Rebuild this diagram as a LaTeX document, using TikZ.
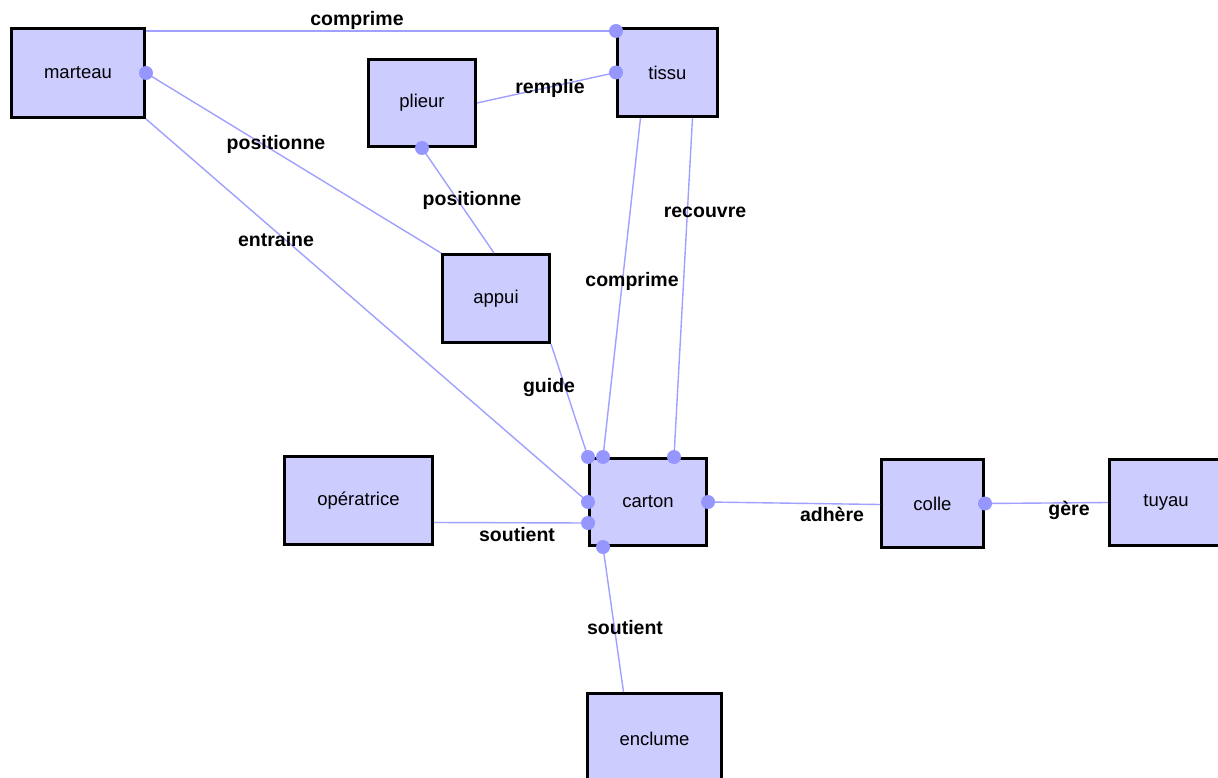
\documentclass[tikz,border=0pt]{standalone}
\usepackage{fontspec}
\setmainfont{Liberation Sans}
\usetikzlibrary{calc}
\definecolor{boxfill}{RGB}{204,204,255}
\definecolor{linkc}{RGB}{160,160,255}
\definecolor{dotc}{RGB}{150,150,255}
\tikzset{
  box/.style={draw=black, line width=3pt, fill=boxfill, rectangle, inner sep=0pt,
    font=\fontsize{18.5}{20}\selectfont},
  link/.style={draw=linkc, line width=1.4pt},
  dotm/.style={circle, fill=dotc, inner sep=0pt, minimum size=14pt},
  lab/.style={font=\fontsize{19.5}{21}\selectfont\bfseries, inner sep=1pt}
}
\begin{document}
\begin{tikzpicture}[x=1pt,y=-1pt]
\useasboundingbox (0,0) rectangle (1218,778);
\begin{scope}
\clip (0,0) rectangle (1218,778);
\fill[white] (0,0) rectangle (1218,778);
% nodes
\node[box, minimum width=133pt, minimum height=89pt] (marteau) at (78,73) {marteau};
\node[box, minimum width=107pt, minimum height=87pt] (plieur) at (422,103) {plieur};
\node[box, minimum width=100pt, minimum height=88pt] (tissu) at (667.5,72.5) {tissu};
\node[box, minimum width=107pt, minimum height=88pt] (appui) at (496,298.5) {appui};
\node[box, minimum width=117pt, minimum height=87pt] (carton) at (648,502) {carton};
\node[box, minimum width=148pt, minimum height=88pt] (operatrice) at (358.5,500.5) {opératrice};
\node[box, minimum width=102pt, minimum height=88pt] (colle) at (932.5,503.5) {colle};
\node[box, minimum width=113pt, minimum height=86pt] (tuyau) at (1166,502.5) {tuyau};
\node[box, minimum width=134pt, minimum height=90pt] (enclume) at (654.5,738.5) {enclume};
% connectors
\draw[link] ([yshift=-4pt]marteau.north east) -- ([yshift=-4pt]tissu.north west) node[pos=1,dotm]{};
\draw[link] (marteau.east) node[dotm]{} -- (appui.north west);
\draw[link] (marteau.south east) -- (carton.west) node[pos=1,dotm]{};
\draw[link] (plieur.east) -- (tissu.west) node[pos=1,dotm]{};
\draw[link] (plieur.south) node[dotm]{} -- ([xshift=-2pt]appui.north);
\draw[link] ([xshift=-27pt]tissu.south) -- ([xshift=15pt]carton.north west) node[pos=1,dotm]{};
\draw[link] ([xshift=25pt]tissu.south) -- ([xshift=26pt]carton.north) node[pos=1,dotm]{};
\draw[link] (appui.south east) -- (carton.north west) node[pos=1,dotm]{};
\draw[link] ([yshift=-22pt]operatrice.east) -- ([yshift=-21pt]carton.west) node[pos=1,dotm]{};
\draw[link] ([xshift=-45pt]carton.south) node[dotm]{} -- ([xshift=-31pt]enclume.north);
\draw[link] (carton.east) node[dotm]{} -- ([yshift=-1pt]colle.west);
\draw[link] (colle.east) node[dotm]{} -- (tuyau.west);
% labels
\node[lab] (l1) at (357,20) {comprime};
\node[lab] (l2) at (550,88) {remplie};
\node[lab] (l3) at (276,144) {positionne};
\node[lab] (l4) at (472,200) {positionne};
\node[lab] (l5) at (705,212) {recouvre};
\node[lab] (l6) at (276,240) {entraine};
\node[lab] (l7) at (632,281) {comprime};
\node[lab] (l8) at (549,387) {guide};
\node[lab] (l9) at (517,535) {soutient};
\node[lab] (l10) at (832,514) {adhère};
\node[lab] (l11) at (1069,510) {gère};
\node[lab] (l12) at (625,628) {soutient};
\end{scope}
\end{tikzpicture}
\end{document}
